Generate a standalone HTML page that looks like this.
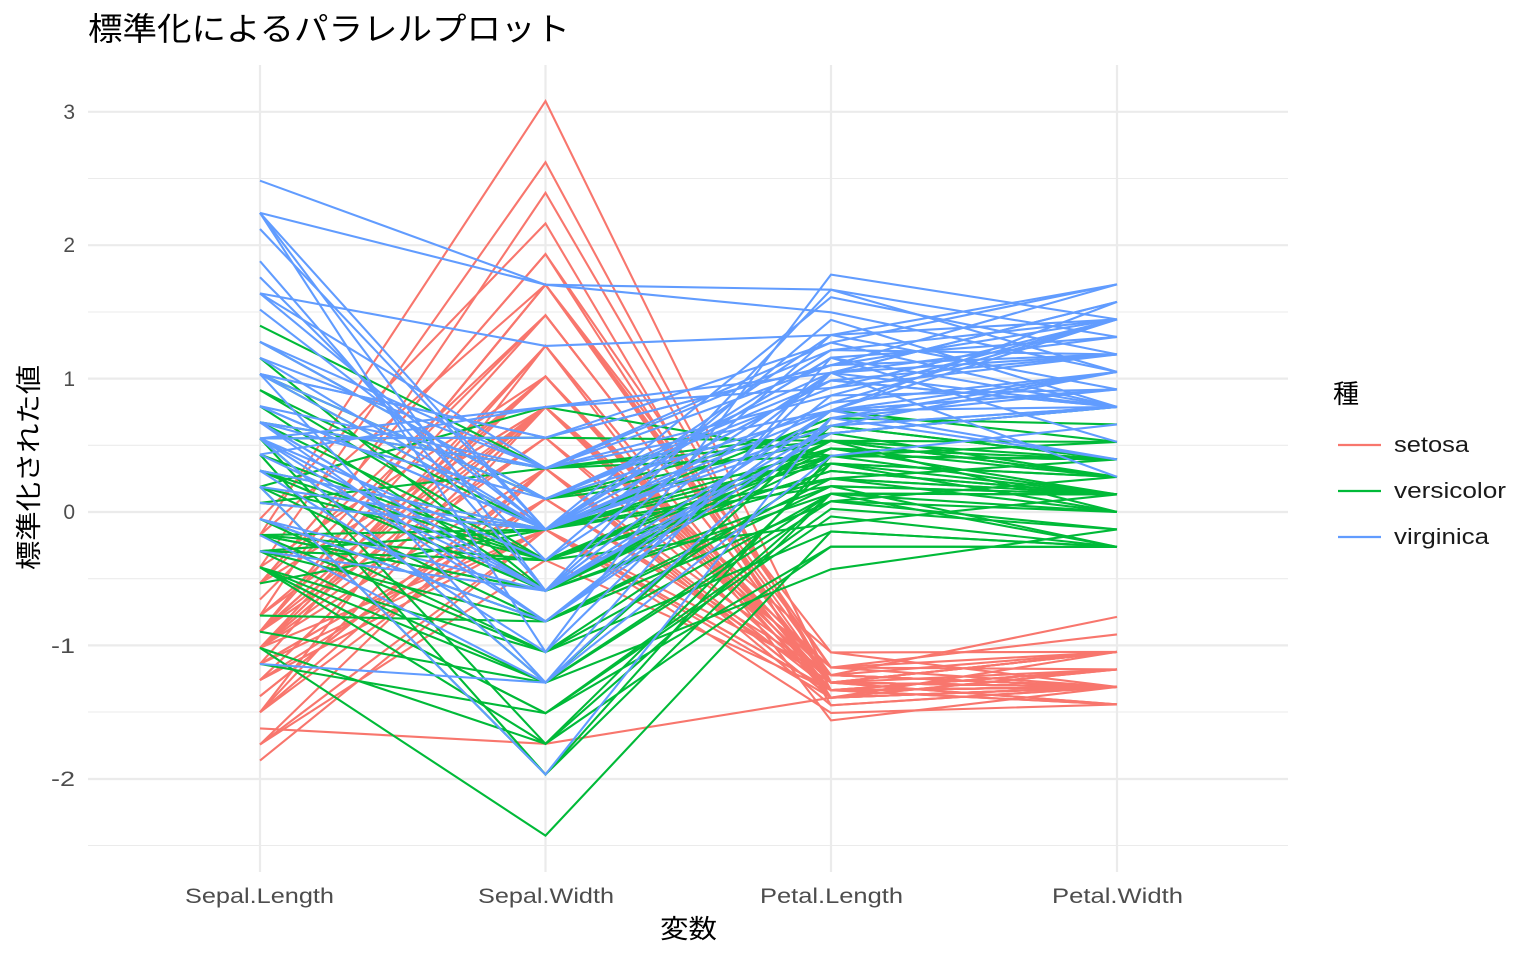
<!DOCTYPE html>
<html><head><meta charset="utf-8"><style>
html,body{margin:0;padding:0;background:#fff;}
svg{display:block;font-family:"Liberation Sans","Noto Sans CJK JP",sans-serif;}
</style></head><body>
<svg id="s" width="1536" height="960" xmlns="http://www.w3.org/2000/svg">
<rect width="1536" height="960" fill="#fff"/>
<g stroke="#ebebeb" stroke-width="1.1">
<line x1="88" x2="1288" y1="845.5" y2="845.5"/><line x1="88" x2="1288" y1="712" y2="712"/>
<line x1="88" x2="1288" y1="578.7" y2="578.7"/><line x1="88" x2="1288" y1="445.3" y2="445.3"/>
<line x1="88" x2="1288" y1="312" y2="312"/><line x1="88" x2="1288" y1="178.5" y2="178.5"/>
</g>
<g stroke="#ebebeb" stroke-width="2.2">
<line x1="88" x2="1288" y1="779" y2="779"/><line x1="88" x2="1288" y1="645.4" y2="645.4"/>
<line x1="88" x2="1288" y1="512" y2="512"/><line x1="88" x2="1288" y1="378.6" y2="378.6"/>
<line x1="88" x2="1288" y1="245.2" y2="245.2"/><line x1="88" x2="1288" y1="111.8" y2="111.8"/>
<line x1="260" x2="260" y1="65" y2="872"/><line x1="545.5" x2="545.5" y1="65" y2="872"/>
<line x1="831" x2="831" y1="65" y2="872"/><line x1="1117" x2="1117" y1="65" y2="872"/>
</g>
<g id="lines" fill="none" stroke-width="2.1"></g>
<g font-size="21" fill="#4d4d4d" text-anchor="end">
<text x="75" y="119">3</text><text x="75" y="252">2</text><text x="75" y="386">1</text>
<text x="75" y="519">0</text><text x="75" y="653" textLength="24" lengthAdjust="spacingAndGlyphs">-1</text><text x="75" y="786" textLength="24" lengthAdjust="spacingAndGlyphs">-2</text>
</g>
<g font-size="21" fill="#4d4d4d">
<text x="185" y="903" textLength="149" lengthAdjust="spacingAndGlyphs">Sepal.Length</text>
<text x="478" y="903" textLength="136" lengthAdjust="spacingAndGlyphs">Sepal.Width</text>
<text x="760" y="903" textLength="143" lengthAdjust="spacingAndGlyphs">Petal.Length</text>
<text x="1052" y="903" textLength="131" lengthAdjust="spacingAndGlyphs">Petal.Width</text>
</g>
<text x="660" y="938" font-size="26" fill="#000" textLength="57" lengthAdjust="spacingAndGlyphs">変数</text>
<text transform="translate(38,570) rotate(-90)" font-size="26" fill="#000" textLength="205" lengthAdjust="spacingAndGlyphs">標準化された値</text>
<text x="88" y="40" font-size="32" fill="#000" textLength="482" lengthAdjust="spacingAndGlyphs">標準化によるパラレルプロット</text>
<text x="1333" y="403" font-size="26" fill="#000">種</text>
<g stroke-width="2.2">
<line x1="1338" x2="1381" y1="445" y2="445" stroke="#F8766D"/>
<line x1="1338" x2="1381" y1="491" y2="491" stroke="#00BA38"/>
<line x1="1338" x2="1381" y1="537" y2="537" stroke="#619CFF"/>
</g>
<g font-size="22" fill="#1a1a1a">
<text x="1394" y="452" textLength="75" lengthAdjust="spacingAndGlyphs">setosa</text>
<text x="1394" y="498" textLength="112" lengthAdjust="spacingAndGlyphs">versicolor</text>
<text x="1394" y="544" textLength="95" lengthAdjust="spacingAndGlyphs">virginica</text>
</g>
</svg>
<script>
var d={setosa:`5.1,3.5,1.4,0.2 4.9,3.0,1.4,0.2 4.7,3.2,1.3,0.2 4.6,3.1,1.5,0.2 5.0,3.6,1.4,0.2 5.4,3.9,1.7,0.4 4.6,3.4,1.4,0.3 5.0,3.4,1.5,0.2 4.4,2.9,1.4,0.2 4.9,3.1,1.5,0.1 5.4,3.7,1.5,0.2 4.8,3.4,1.6,0.2 4.8,3.0,1.4,0.1 4.3,3.0,1.1,0.1 5.8,4.0,1.2,0.2 5.7,4.4,1.5,0.4 5.4,3.9,1.3,0.4 5.1,3.5,1.4,0.3 5.7,3.8,1.7,0.3 5.1,3.8,1.5,0.3 5.4,3.4,1.7,0.2 5.1,3.7,1.5,0.4 4.6,3.6,1.0,0.2 5.1,3.3,1.7,0.5 4.8,3.4,1.9,0.2 5.0,3.0,1.6,0.2 5.0,3.4,1.6,0.4 5.2,3.5,1.5,0.2 5.2,3.4,1.4,0.2 4.7,3.2,1.6,0.2 4.8,3.1,1.6,0.2 5.4,3.4,1.5,0.4 5.2,4.1,1.5,0.1 5.5,4.2,1.4,0.2 4.9,3.1,1.5,0.2 5.0,3.2,1.2,0.2 5.5,3.5,1.3,0.2 4.9,3.6,1.4,0.1 4.4,3.0,1.3,0.2 5.1,3.4,1.5,0.2 5.0,3.5,1.3,0.3 4.5,2.3,1.3,0.3 4.4,3.2,1.3,0.2 5.0,3.5,1.6,0.6 5.1,3.8,1.9,0.4 4.8,3.0,1.4,0.3 5.1,3.8,1.6,0.2 4.6,3.2,1.4,0.2 5.3,3.7,1.5,0.2 5.0,3.3,1.4,0.2`,
versicolor:`7.0,3.2,4.7,1.4 6.4,3.2,4.5,1.5 6.9,3.1,4.9,1.5 5.5,2.3,4.0,1.3 6.5,2.8,4.6,1.5 5.7,2.8,4.5,1.3 6.3,3.3,4.7,1.6 4.9,2.4,3.3,1.0 6.6,2.9,4.6,1.3 5.2,2.7,3.9,1.4 5.0,2.0,3.5,1.0 5.9,3.0,4.2,1.5 6.0,2.2,4.0,1.0 6.1,2.9,4.7,1.4 5.6,2.9,3.6,1.3 6.7,3.1,4.4,1.4 5.6,3.0,4.5,1.5 5.8,2.7,4.1,1.0 6.2,2.2,4.5,1.5 5.6,2.5,3.9,1.1 5.9,3.2,4.8,1.8 6.1,2.8,4.0,1.3 6.3,2.5,4.9,1.5 6.1,2.8,4.7,1.2 6.4,2.9,4.3,1.3 6.6,3.0,4.4,1.4 6.8,2.8,4.8,1.4 6.7,3.0,5.0,1.7 6.0,2.9,4.5,1.5 5.7,2.6,3.5,1.0 5.5,2.4,3.8,1.1 5.5,2.4,3.7,1.0 5.8,2.7,3.9,1.2 6.0,2.7,5.1,1.6 5.4,3.0,4.5,1.5 6.0,3.4,4.5,1.6 6.7,3.1,4.7,1.5 6.3,2.3,4.4,1.3 5.6,3.0,4.1,1.3 5.5,2.5,4.0,1.3 5.5,2.6,4.4,1.2 6.1,3.0,4.6,1.4 5.8,2.6,4.0,1.2 5.0,2.3,3.3,1.0 5.6,2.7,4.2,1.3 5.7,3.0,4.2,1.2 5.7,2.9,4.2,1.3 6.2,2.9,4.3,1.3 5.1,2.5,3.0,1.1 5.7,2.8,4.1,1.3`,
virginica:`6.3,3.3,6.0,2.5 5.8,2.7,5.1,1.9 7.1,3.0,5.9,2.1 6.3,2.9,5.6,1.8 6.5,3.0,5.8,2.2 7.6,3.0,6.6,2.1 4.9,2.5,4.5,1.7 7.3,2.9,6.3,1.8 6.7,2.5,5.8,1.8 7.2,3.6,6.1,2.5 6.5,3.2,5.1,2.0 6.4,2.7,5.3,1.9 6.8,3.0,5.5,2.1 5.7,2.5,5.0,2.0 5.8,2.8,5.1,2.4 6.4,3.2,5.3,2.3 6.5,3.0,5.5,1.8 7.7,3.8,6.7,2.2 7.7,2.6,6.9,2.3 6.0,2.2,5.0,1.5 6.9,3.2,5.7,2.3 5.6,2.8,4.9,2.0 7.7,2.8,6.7,2.0 6.3,2.7,4.9,1.8 6.7,3.3,5.7,2.1 7.2,3.2,6.0,1.8 6.2,2.8,4.8,1.8 6.1,3.0,4.9,1.8 6.4,2.8,5.6,2.1 7.2,3.0,5.8,1.6 7.4,2.8,6.1,1.9 7.9,3.8,6.4,2.0 6.4,2.8,5.6,2.2 6.3,2.8,5.1,1.5 6.1,2.6,5.6,1.4 7.7,3.0,6.1,2.3 6.3,3.4,5.6,2.4 6.4,3.1,5.5,1.8 6.0,3.0,4.8,1.8 6.9,3.1,5.4,2.1 6.7,3.1,5.6,2.4 6.9,3.1,5.1,2.3 5.8,2.7,5.1,1.9 6.8,3.2,5.9,2.3 6.7,3.3,5.7,2.5 6.7,3.0,5.2,2.3 6.3,2.5,5.0,1.9 6.5,3.0,5.2,2.0 6.2,3.4,5.4,2.3 5.9,3.0,5.1,1.8`};
var col={setosa:"#F8766D",versicolor:"#00BA38",virginica:"#619CFF"};
var rows=[];for(var k in d){d[k].split(" ").forEach(function(r){rows.push({s:k,v:r.split(",").map(Number)});});}
var m=[0,0,0,0],sd=[0,0,0,0],n=rows.length;
for(var j=0;j<4;j++){rows.forEach(function(r){m[j]+=r.v[j];});m[j]/=n;rows.forEach(function(r){sd[j]+=(r.v[j]-m[j])*(r.v[j]-m[j]);});sd[j]=Math.sqrt(sd[j]/(n-1));}
var xs=[260,545.5,831,1117],g=document.getElementById("lines"),h="";
rows.forEach(function(r){var p=r.v.map(function(v,j){return xs[j]+","+(512-133.4*(v-m[j])/sd[j]).toFixed(1);}).join(" ");
h+='<polyline points="'+p+'" stroke="'+col[r.s]+'"/>';});
g.innerHTML=h;
</script>
</body></html>
